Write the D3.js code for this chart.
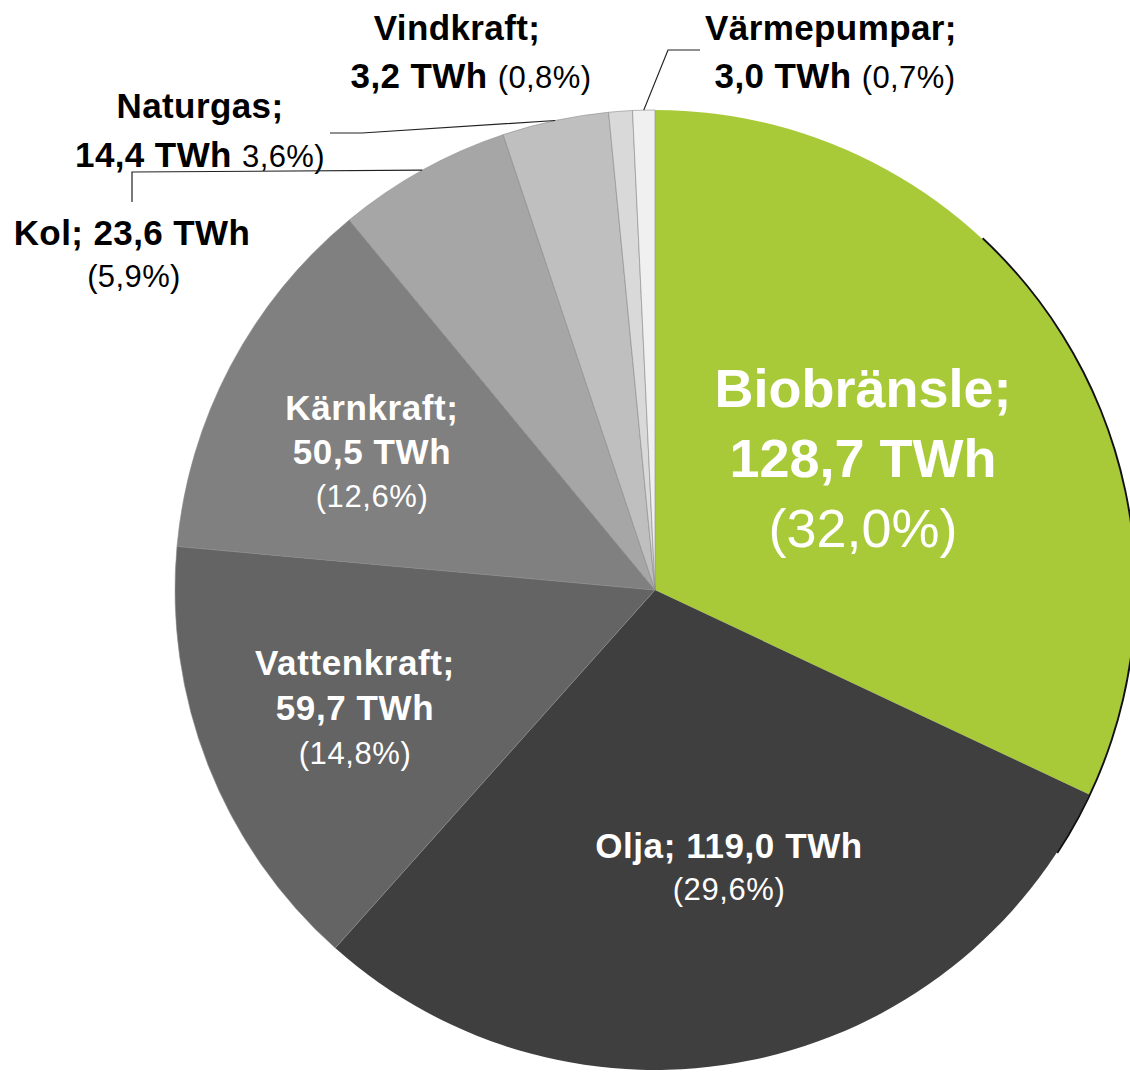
<!DOCTYPE html>
<html><head><meta charset="utf-8">
<script src="https://cdn.jsdelivr.net/npm/d3@7"></script>
<style>html,body{margin:0;padding:0;background:#fff;} svg{display:block;}</style>
</head><body>
<svg id="chart" width="1130" height="1073"></svg>
<script>
const categories = ["Biobränsle","Olja","Vattenkraft","Kärnkraft","Kol","Naturgas","Vindkraft","Värmepumpar"];
const values = [128.7, 119.0, 59.7, 50.5, 23.6, 14.4, 3.2, 3.0];
const valueLabels = ["128,7 TWh","119,0 TWh","59,7 TWh","50,5 TWh","23,6 TWh","14,4 TWh","3,2 TWh","3,0 TWh"];
const pctLabels = ["(32,0%)","(29,6%)","(14,8%)","(12,6%)","(5,9%)","3,6%)","(0,8%)","(0,7%)"];
const colors = ["#a9ca38","#3f3f3f","#646464","#808080","#a6a6a6","#bfbfbf","#d9d9d9","#f0f0f0"];

const svg = d3.select("#chart");
const cx = 655, cy = 590, R = 480;
const g = svg.append("g").attr("transform", `translate(${cx},${cy})`);
const pie = d3.pie().sort(null).value(d => d.v);
const data = categories.map((c, i) => ({c, v: values[i], i}));
const arcs = pie(data);
const arc = d3.arc().innerRadius(0).outerRadius(R);

g.selectAll("path.slice").data(arcs).enter().append("path")
  .attr("class","slice")
  .attr("d", arc)
  .attr("fill", d => colors[d.data.i])
  .attr("stroke", d => d.data.i >= 2 ? "#8a8a8a" : "none")
  .attr("stroke-width", 0.6);

// dark rim on right side
g.append("path")
  .attr("d", d3.arc().innerRadius(R - 0.3).outerRadius(R + 1.6).startAngle(0.75).endAngle(2.15)())
  .attr("fill", "#111");

const FF = "'Liberation Sans', Arial, sans-serif";

// inner labels
const inner = [
  {i:0, x:863, y:[407,477,547], fs:54, lines:[["Biobränsle;",1],[valueLabels[0],1],[pctLabels[0],0]]},
  {i:1, x:729, y:[858,900], fs:35, lines:[["Olja; "+valueLabels[1],1],[pctLabels[1],0]], pfs:31},
  {i:2, x:355, y:[675,720,764], fs:35, lines:[["Vattenkraft;",1],[valueLabels[2],1],[pctLabels[2],0]], pfs:31},
  {i:3, x:372, y:[420,464,507], fs:35, lines:[["Kärnkraft;",1],[valueLabels[3],1],[pctLabels[3],0]], pfs:31}
];
inner.forEach(lb => {
  lb.lines.forEach((ln, k) => {
    svg.append("text").attr("x", lb.x).attr("y", lb.y[k])
      .attr("text-anchor","middle").attr("font-family",FF)
      .attr("font-weight", ln[1] ? "bold" : "normal")
      .attr("font-size", ln[1] ? lb.fs : (lb.pfs || lb.fs))
      .attr("letter-spacing", lb.fs < 40 ? 0.6 : 0)
      .attr("fill","#fff").text(ln[0]);
  });
});

// outer labels
const outer = [
  {i:6, lines:[{x:457,y:40,parts:[["Vindkraft;",1]]},{x:471,y:88,parts:[[valueLabels[6]+" ",1],[pctLabels[6],0]]}]},
  {i:7, lines:[{x:831,y:40,parts:[["Värmepumpar;",1]]},{x:835,y:88,parts:[[valueLabels[7]+" ",1],[pctLabels[7],0]]}]},
  {i:5, lines:[{x:200,y:118,parts:[["Naturgas;",1]]},{x:200,y:167,parts:[[valueLabels[5]+" ",1],[pctLabels[5],0]]}]},
  {i:4, lines:[{x:132,y:245,parts:[["Kol; "+valueLabels[4],1]]},{x:134,y:287,parts:[[pctLabels[4],0]]}]}
];
outer.forEach(lb => {
  lb.lines.forEach(ln => {
    const t = svg.append("text").attr("x", ln.x).attr("y", ln.y)
      .attr("text-anchor","middle").attr("font-family",FF).attr("fill","#000")
      .attr("letter-spacing", 0.4);
    ln.parts.forEach(p => {
      t.append("tspan").attr("font-weight", p[1] ? "bold" : "normal")
        .attr("font-size", p[1] ? 35 : 31).text(p[0]);
    });
  });
});

// leader lines from slice mid-angle on the rim
const rimPt = a => [cx + R * Math.sin(a), cy - R * Math.cos(a)];
const leaders = [
  {i:7, pts:[[668,50],[700,50]]},
  {i:5, pts:[[362,133],[330,133]]},
  {i:4, pts:[[132,172],[132,202]]}
];
leaders.forEach(l => {
  const a = arcs[l.i];
  const start = rimPt((a.startAngle + a.endAngle) / 2);
  svg.append("path").attr("d", d3.line()([start, ...l.pts]))
    .attr("fill","none").attr("stroke","#222").attr("stroke-width",1.2);
});
</script>
</body></html>
